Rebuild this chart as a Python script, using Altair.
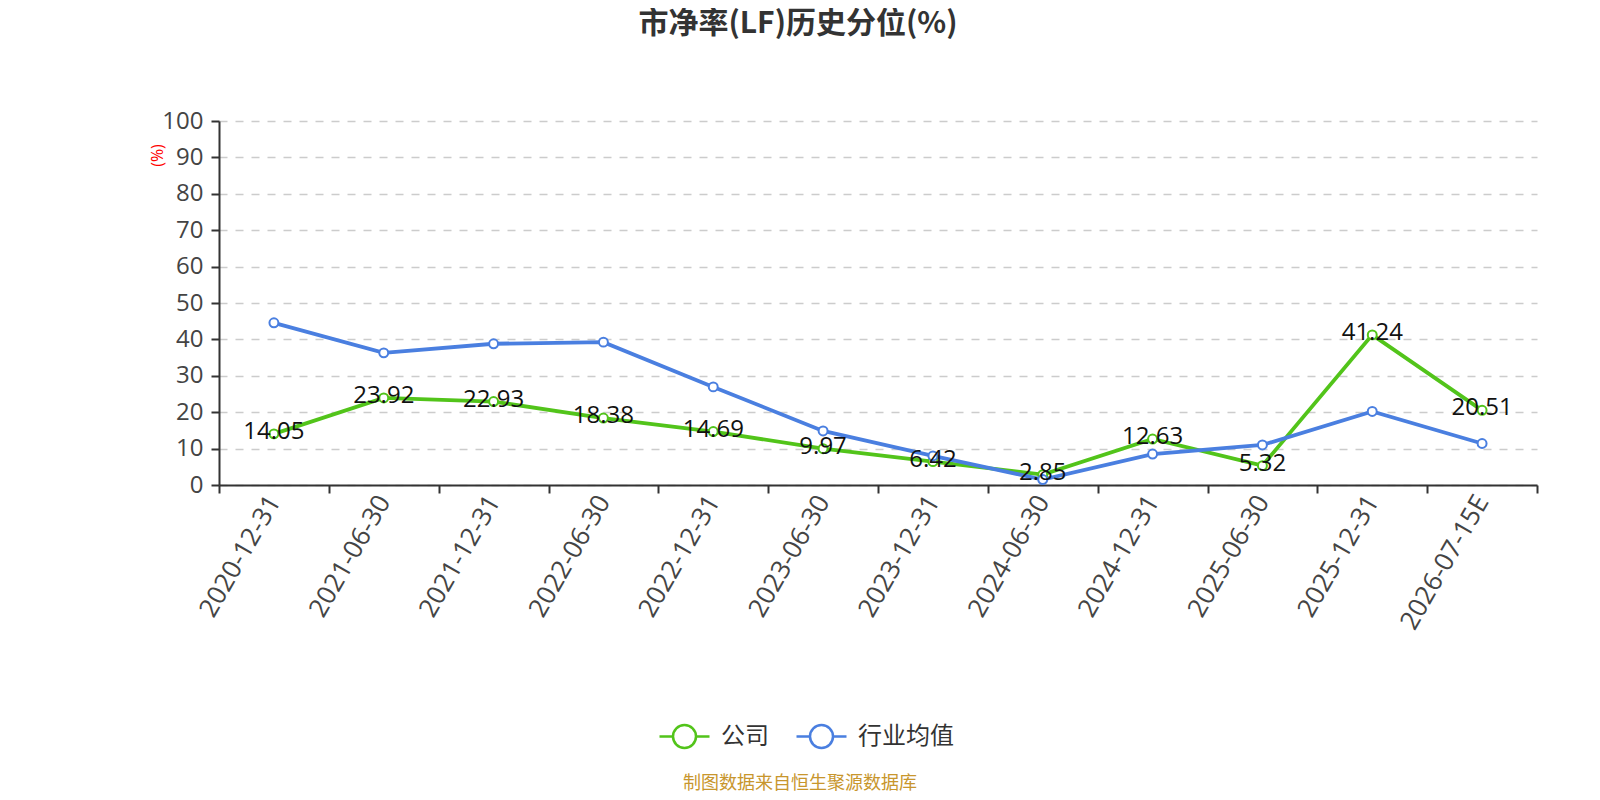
import altair as alt
import pandas as pd

categories = ["2020-12-31", "2021-06-30", "2021-12-31", "2022-06-30", "2022-12-31",
              "2023-06-30", "2023-12-31", "2024-06-30", "2024-12-31", "2025-06-30",
              "2025-12-31", "2026-07-15E"]
company = [14.05, 23.92, 22.93, 18.38, 14.69, 9.97, 6.42, 2.85, 12.63, 5.32, 41.24, 20.51]
industry = [44.55, 36.3, 38.8, 39.25, 26.95, 14.85, 8.0, 1.5, 8.5, 11.0, 20.2, 11.4]
series_names = ["公司", "行业均值"]
series_colors = ["#52c41a", "#4a7fe0"]
title_text = ["市净率(LF)历史分位(%)"]
source_text = ["制图数据来自恒生聚源数据库"]

rows = []
for c, v in zip(categories, company):
    rows.append({"date": c, "value": v, "series": series_names[0]})
for c, v in zip(categories, industry):
    rows.append({"date": c, "value": v, "series": series_names[1]})
df = pd.DataFrame(rows)

NUM_FONT = "Open Sans, Noto Sans CJK SC"
CJK_FONT = "Noto Sans CJK SC"

x_enc = alt.X(
    "date:N", sort=categories, bandPosition=0.5,
    scale=alt.Scale(type="band", paddingInner=0, paddingOuter=0),
    axis=alt.Axis(title=None, labelAngle=-60, labelAlign="right", labelBaseline="middle",
                  tickBand="extent", tickSize=8, tickWidth=2, tickColor="#333",
                  domainColor="#333", domainWidth=2, labelFontSize=26, labelColor="#444",
                  labelFont=NUM_FONT, labelPadding=4, grid=False),
)
y_enc = alt.Y(
    "value:Q",
    scale=alt.Scale(domain=[0, 100], nice=False),
    axis=alt.Axis(values=list(range(0, 101, 10)), grid=True, gridDash=[8, 8],
                  gridColor="#cccccc", gridWidth=1.5, domainColor="#333", domainWidth=2,
                  tickColor="#333", tickWidth=2, tickSize=8, labelFontSize=24,
                  labelColor="#444", labelFont=NUM_FONT, labelPadding=8,
                  title="(%)", titleColor="red", titleFontSize=16, titleFontWeight="normal",
                  titleFont=NUM_FONT, titleX=-62, titleY=34, titleAngle=270,
                  titleAlign="center", titleBaseline="middle"),
)

legend_symbol = ("M-1,0L-0.46,0M0.46,0L1,0M-0.46,0A0.46,0.46,0,1,0,0.46,0"
                 "A0.46,0.46,0,1,0,-0.46,0")

base = alt.Chart(df)

lines = base.mark_line(strokeWidth=3.8).encode(
    x=x_enc, y=y_enc,
    color=alt.Color("series:N", sort=series_names,
                    scale=alt.Scale(domain=series_names, range=series_colors),
                    legend=alt.Legend(title=None, orient="none", direction="horizontal",
                                      legendX=439, legendY=589, symbolType=legend_symbol,
                                      symbolSize=2500, symbolStrokeWidth=2.5,
                                      symbolFillColor="white", labelFontSize=24,
                                      labelColor="#333", labelFont=CJK_FONT,
                                      labelOffset=10, columnPadding=22)),
)

points = base.mark_point(filled=False, fill="white", size=80, strokeWidth=2, opacity=1).encode(
    x=x_enc, y=y_enc,
    stroke=alt.Stroke("series:N", scale=alt.Scale(domain=series_names, range=series_colors),
                      legend=None),
)

labels = base.transform_filter(alt.datum.series == series_names[0]).mark_text(
    fontSize=24, font=NUM_FONT, color="#111", baseline="middle", align="center", dy=-2
).encode(
    x=x_enc, y=y_enc,
    text=alt.Text("value:Q", format=".2f"),
)

title = alt.Chart(pd.DataFrame({"t": title_text})).mark_text(
    fontSize=30, font=CJK_FONT, fontWeight="bold", color="#333", align="center",
    baseline="middle"
).encode(x=alt.value(579), y=alt.value(-97), text="t:N")

source = alt.Chart(pd.DataFrame({"t": source_text})).mark_text(
    fontSize=18, font=CJK_FONT, color="#c8962d", align="center", baseline="middle"
).encode(x=alt.value(581), y=alt.value(663), text="t:N")

chart = alt.layer(lines, points, labels, title, source).properties(
    width=1318, height=364,
    autosize=alt.AutoSizeParams(type="none"),
    padding={"left": 211, "top": 113, "right": 40, "bottom": 307},
).configure_view(stroke=None).resolve_scale(color="independent")

chart.save("out.html", embed_options={"renderer": "svg", "actions": False})
